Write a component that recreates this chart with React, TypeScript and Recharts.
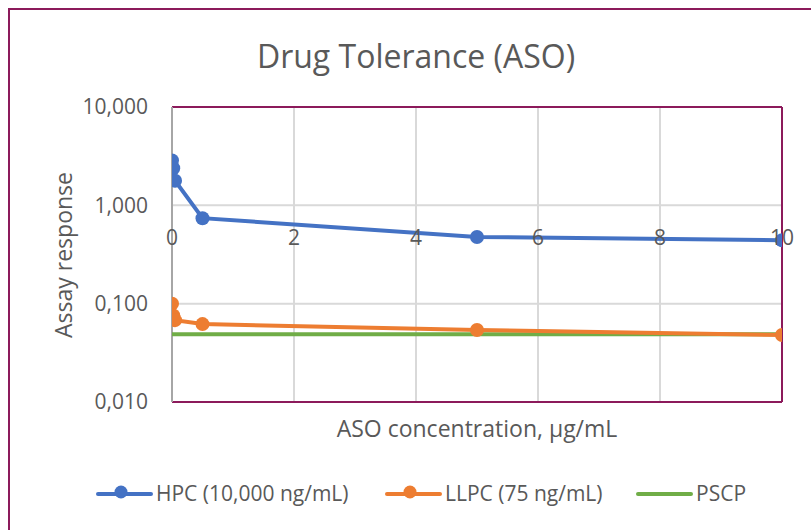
import { CartesianGrid, Line, LineChart, ReferenceLine, XAxis, YAxis } from "recharts";

// ASO concentration (µg/mL) and assay response for each control
const hpcConc = [0, 0.02, 0.05, 0.5, 5, 10];
const hpcResp = [2.86, 2.38, 1.78, 0.74, 0.477, 0.442];
const llpcConc = [0, 0.02, 0.05, 0.5, 5, 10];
const llpcResp = [0.1, 0.076, 0.068, 0.062, 0.054, 0.048];
const pscpConc = [0, 10];
const pscpResp = [0.049, 0.049];

const xTicks = [0, 2, 4, 6, 8, 10];
const yTicks = [0.01, 0.1, 1, 10];

const toPoints = (xs: number[], ys: number[]) => xs.map((x, i) => ({ x, y: ys[i] }));
const hpc = toPoints(hpcConc, hpcResp);
const llpc = toPoints(llpcConc, llpcResp);
const pscp = toPoints(pscpConc, pscpResp);

const BLUE = "#4472C4";
const ORANGE = "#ED7D31";
const GREEN = "#70AD47";
const MAROON = "#8C1A5B";
const TEXT = "#595959";
const FONT = "'Open Sans', sans-serif";

// x labels sit under the 1,000 line, not at the bottom of the plot
const XTick = ({ x, y, payload }: any) => (
  <text x={x} y={y - 157} textAnchor="middle" fill={TEXT} fontSize={21} fontFamily={FONT}>
    {payload.value}
  </text>
);

const fmtY = (v: number) => v.toFixed(3).replace(".", ",");

const LegendItem = ({ left, color, label, marker }: { left: number; color: string; label: string; marker: boolean }) => (
  <div style={{ position: "absolute", left, top: 0, display: "flex", alignItems: "center" }}>
    <svg width={60} height={22}>
      <line x1={2} x2={55} y1={12} y2={12} stroke={color} strokeWidth={4} strokeLinecap="round" />
      {marker && <circle cx={25} cy={10} r={6.5} fill={color} />}
    </svg>
    <span style={{ fontSize: 21, color: TEXT, fontFamily: FONT }}>{label}</span>
  </div>
);

export default function App() {
  return (
    <div style={{ position: "fixed", left: 0, top: 0, width: 811, height: 530, overflow: "hidden", background: "#fff" }}>
      <div
        style={{
          position: "absolute",
          left: 8,
          top: 8,
          width: 1000,
          height: 1000,
          borderLeft: `2px solid ${MAROON}`,
          borderTop: `2px solid ${MAROON}`,
        }}
      />
      <LineChart width={811} height={530} margin={{ top: 107, right: 29, bottom: 98, left: 0 }}>
        <CartesianGrid stroke="#d9d9d9" strokeWidth={2} />
        <XAxis
          type="number"
          dataKey="x"
          domain={[0, 10]}
          ticks={xTicks}
          axisLine={false}
          tickLine={false}
          tickSize={0}
          tickMargin={0}
          height={30}
          tick={<XTick />}
          allowDataOverflow
        />
        <YAxis
          type="number"
          dataKey="y"
          scale="log"
          domain={[0.01, 10]}
          ticks={yTicks}
          tickFormatter={fmtY}
          axisLine={false}
          tickLine={false}
          tickSize={0}
          tickMargin={24}
          width={172}
          tick={{ fill: TEXT, fontSize: 21, fontFamily: FONT }}
          allowDataOverflow
        />
        <ReferenceLine y={10} stroke={MAROON} strokeWidth={2} />
        <ReferenceLine y={0.01} stroke={MAROON} strokeWidth={2} />
        <ReferenceLine x={10} stroke={MAROON} strokeWidth={2} />
        <ReferenceLine x={0} stroke="#a6a6a6" strokeWidth={2} />
        <Line
          data={pscp}
          dataKey="y"
          type="linear"
          stroke={GREEN}
          strokeWidth={4}
          dot={false}
          isAnimationActive={false}
        />
        <Line
          data={llpc}
          dataKey="y"
          type="linear"
          stroke={ORANGE}
          strokeWidth={4}
          dot={{ r: 7, fill: ORANGE, stroke: ORANGE, strokeWidth: 0 }}
          isAnimationActive={false}
        />
        <Line
          data={hpc}
          dataKey="y"
          type="linear"
          stroke={BLUE}
          strokeWidth={4}
          dot={{ r: 7, fill: BLUE, stroke: BLUE, strokeWidth: 0 }}
          isAnimationActive={false}
        />
      </LineChart>
      <div
        style={{
          position: "absolute",
          left: 416,
          top: 55,
          transform: "translate(-50%, -50%)",
          whiteSpace: "nowrap",
          fontSize: 32,
          color: TEXT,
          fontFamily: FONT,
        }}
      >
        Drug Tolerance (ASO)
      </div>
      <div
        style={{
          position: "absolute",
          left: 63,
          top: 255,
          transform: "translate(-50%, -50%) rotate(-90deg)",
          whiteSpace: "nowrap",
          fontSize: 23,
          color: TEXT,
          fontFamily: FONT,
        }}
      >
        Assay response
      </div>
      <div
        style={{
          position: "absolute",
          left: 477,
          top: 428,
          transform: "translate(-50%, -50%)",
          whiteSpace: "nowrap",
          fontSize: 23,
          color: TEXT,
          fontFamily: FONT,
        }}
      >
        ASO concentration, µg/mL
      </div>
      <div style={{ position: "absolute", left: 0, top: 479, width: 811, height: 28 }}>
        <LegendItem left={96} color={BLUE} label="HPC (10,000 ng/mL)" marker />
        <LegendItem left={385} color={ORANGE} label="LLPC (75 ng/mL)" marker />
        <LegendItem left={636} color={GREEN} label="PSCP" marker={false} />
      </div>
    </div>
  );
}
